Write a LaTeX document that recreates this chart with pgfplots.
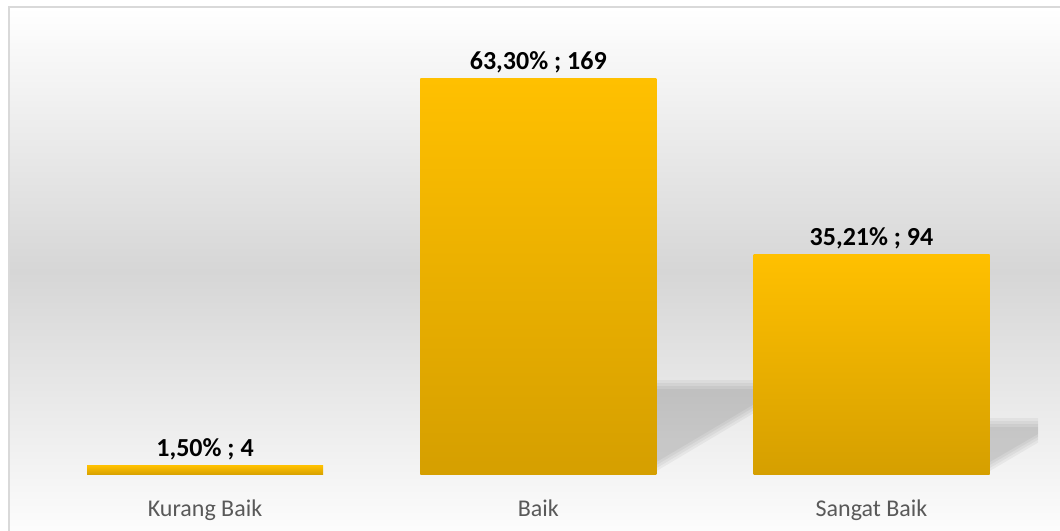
\documentclass[border=0pt]{standalone}
\usepackage{pgfplots}
\pgfplotsset{compat=1.18}
\usepackage{fontspec}
\setmainfont{Carlito}
\definecolor{bgdark}{RGB}{214,214,214}
\definecolor{bglight}{RGB}{253,253,253}
\definecolor{framecol}{RGB}{217,217,217}
\definecolor{bartop}{RGB}{255,192,0}
\definecolor{barbot}{RGB}{213,159,0}
\definecolor{catcol}{RGB}{89,89,89}
\pgfdeclareverticalshading{bgshade}{100bp}{color(0bp)=(bglight); color(25bp)=(bglight); color(50bp)=(bgdark); color(75bp)=(white); color(100bp)=(white)}
\pgfplotsset{
  softshadow/.style={draw=none, fill=black, fill opacity=0.045},
  goldbar/.style={ybar, bar width=236bp, bar shift=0pt, draw=none, top color=bartop, bottom color=barbot,
    every node near coord/.append style={font=\fontsize{26bp}{30bp}\selectfont\bfseries, text=black, anchor=base, yshift=9.5bp}},
}
\begin{document}
\begin{tikzpicture}
\useasboundingbox (0bp,0bp) rectangle (1060bp,531bp);
\clip (0bp,0bp) rectangle (1060bp,531bp);
\shade[shading=bgshade] (9bp,-5bp) rectangle (1066bp,524bp);
\draw[framecol, line width=1.6bp] (9bp,-5bp) rectangle (1066bp,524bp);
\begin{axis}[
  at={(38.4bp,56bp)}, anchor=south west,
  scale only axis, width=999.75bp, height=445.5bp,
  xmin=-0.5, xmax=2.5, ymin=0, ymax=190,
  axis line style={draw=none},
  ytick=\empty,
  xtick={0,1,2},
  xticklabels={Kurang Baik, Baik, Sangat Baik},
  major tick length=0pt,
  xticklabel style={font=\fontsize{24bp}{28bp}\selectfont, text=catcol, anchor=base, yshift=-41bp},
]
% soft perspective shadows (layered for blur)
\addplot[softshadow] coordinates {(1.35,1.28) (1.35,40.5) (1.814,40.5)} -- cycle;
\addplot[softshadow] coordinates {(1.35,2.56) (1.35,39.22) (1.784,39.22)} -- cycle;
\addplot[softshadow] coordinates {(1.35,3.84) (1.35,37.94) (1.754,37.94)} -- cycle;
\addplot[softshadow] coordinates {(1.35,5.12) (1.35,36.66) (1.724,36.66)} -- cycle;
\addplot[softshadow] coordinates {(2.35,1.28) (2.35,24.3) (2.625,24.3)} -- cycle;
\addplot[softshadow] coordinates {(2.35,2.56) (2.35,23.02) (2.595,23.02)} -- cycle;
\addplot[softshadow] coordinates {(2.35,3.84) (2.35,21.74) (2.565,21.74)} -- cycle;
\addplot[softshadow] coordinates {(2.35,5.12) (2.35,20.46) (2.535,20.46)} -- cycle;
\addplot[goldbar, nodes near coords={1,50\% ; 4}] coordinates {(0,4)};
\addplot[goldbar, nodes near coords={63,30\% ; 169}] coordinates {(1,169)};
\addplot[goldbar, nodes near coords={35,21\% ; 94}] coordinates {(2,94)};
\end{axis}
\end{tikzpicture}
\end{document}
